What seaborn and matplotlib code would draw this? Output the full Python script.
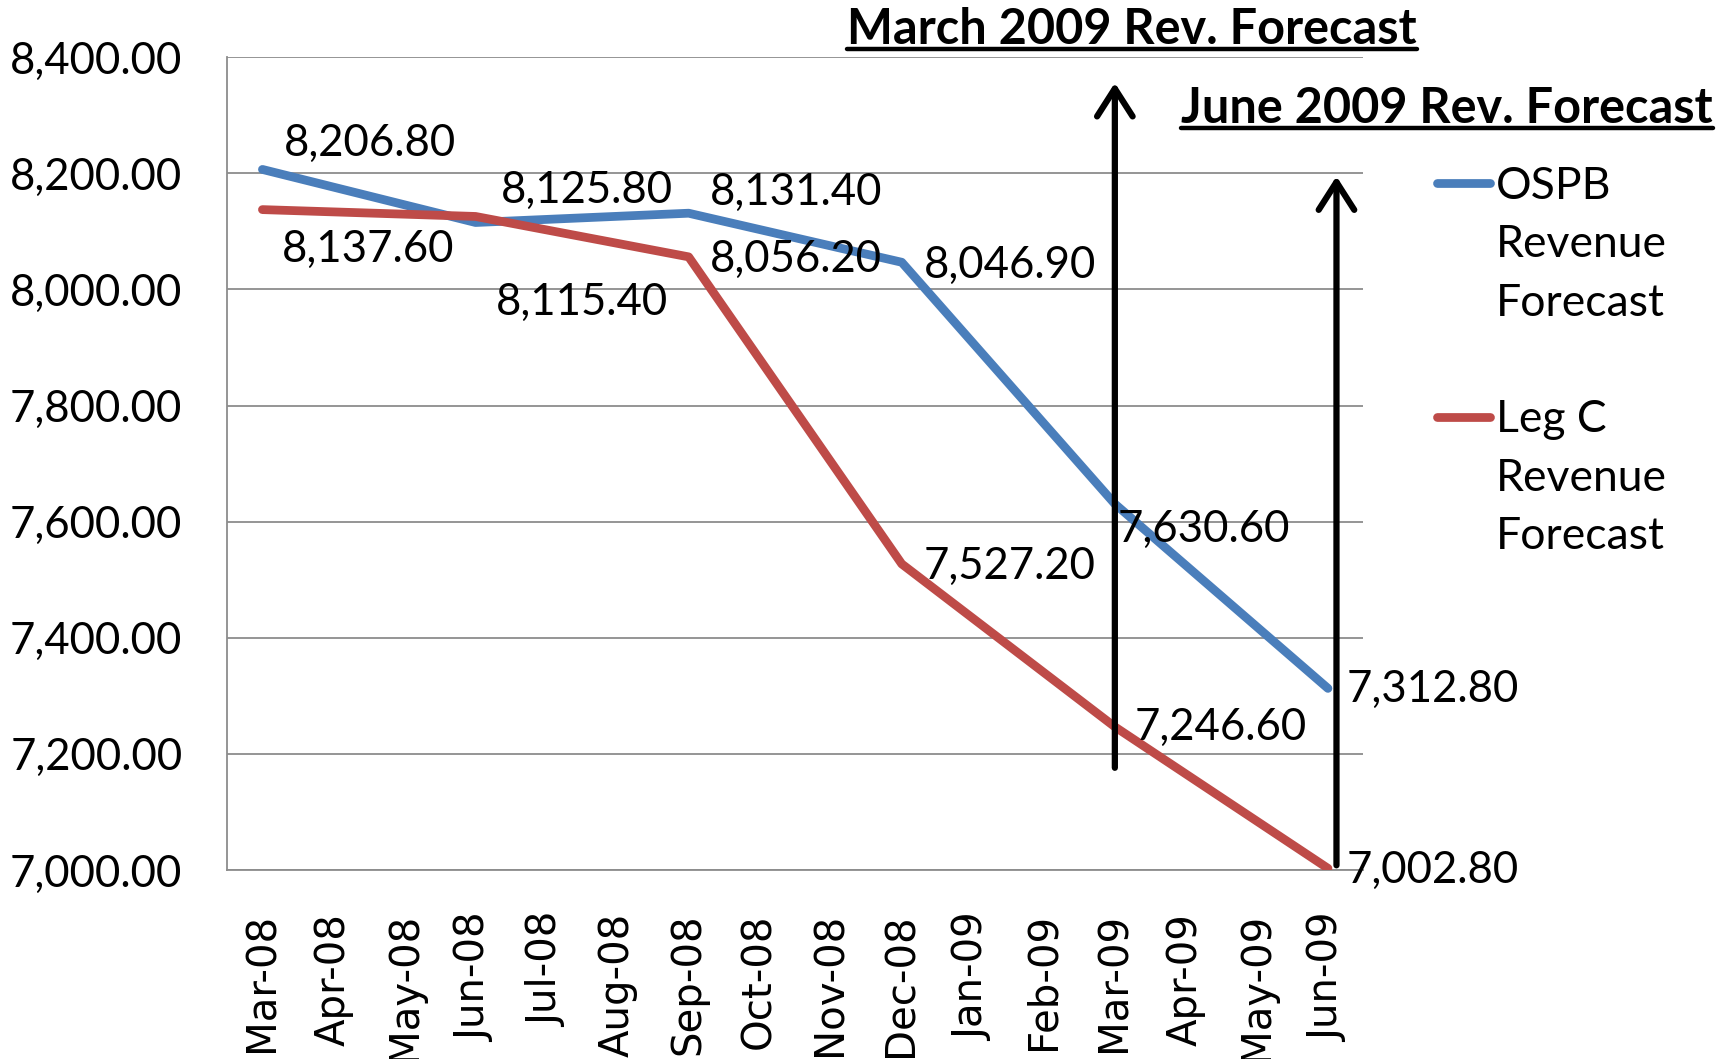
import numpy as np
import pandas as pd
import matplotlib
matplotlib.use("Agg")
import matplotlib.pyplot as plt
import seaborn as sns
from matplotlib.lines import Line2D

# ---------------- data ----------------
months = ["Mar-08", "Apr-08", "May-08", "Jun-08", "Jul-08", "Aug-08", "Sep-08",
          "Oct-08", "Nov-08", "Dec-08", "Jan-09", "Feb-09", "Mar-09", "Apr-09",
          "May-09", "Jun-09"]
forecast_months = ["Mar-08", "Jun-08", "Sep-08", "Dec-08", "Mar-09", "Jun-09"]
ospb_values = [8206.80, 8115.40, 8131.40, 8046.90, 7630.60, 7312.80]
legc_values = [8137.60, 8125.80, 8056.20, 7527.20, 7246.60, 7002.80]
series_names = ["OSPB Revenue Forecast", "Leg C Revenue Forecast"]
y_ticks = [7000, 7200, 7400, 7600, 7800, 8000, 8200, 8400]
annotation_titles = ["March 2009 Rev. Forecast", "June 2009 Rev. Forecast"]
arrow_months = ["Mar-09", "Jun-09"]
arrow_spans = [(7176, 8356), (7008, 8195)]

# ---------------- style ----------------
blue = "#4A7EBB"
red = "#BE4B48"
grid_col = "#8C8C8C"
num_font = ["Lato", "DejaVu Sans"]

sns.set_theme(style="white")
plt.rcParams["font.family"] = num_font
plt.rcParams["text.color"] = "black"
plt.rcParams["xtick.color"] = "black"
plt.rcParams["ytick.color"] = "black"

fig = plt.figure(figsize=(17.27, 10.59), dpi=100)
ax = fig.add_axes([0.1314, 0.1785, 0.6581, 0.7674])

x_pos = [months.index(m) for m in forecast_months]
df = pd.DataFrame({
    "x": x_pos * 2,
    "value": ospb_values + legc_values,
    "series": [series_names[0]] * len(ospb_values) + [series_names[1]] * len(legc_values),
})

sns.lineplot(data=df, x="x", y="value", hue="series", palette=[blue, red],
             linewidth=6.3, ax=ax, legend=False,
             solid_capstyle="round", solid_joinstyle="round", zorder=3)

ax.set_xlim(-0.5, len(months) - 0.5)
ax.set_ylim(y_ticks[0], y_ticks[-1])
ax.set_xticks(range(len(months)))
ax.set_xticklabels(months, rotation=90, fontfamily="DejaVu Sans", fontsize=29)
ax.set_yticks(y_ticks)
ax.set_yticklabels([f"{v:,.2f}" for v in y_ticks], fontsize=31.5)
ax.tick_params(axis="x", length=0, pad=31, colors="black")
ax.tick_params(axis="y", length=0, pad=32, colors="black")
ax.set_xlabel("")
ax.set_ylabel("")
ax.grid(axis="y", color=grid_col, linewidth=1.3)
ax.grid(axis="x", visible=False)
ax.set_axisbelow(True)
for s in ["top", "right"]:
    ax.spines[s].set_visible(False)
for s in ["left", "bottom"]:
    ax.spines[s].set_color(grid_col)
    ax.spines[s].set_linewidth(1.3)

# data labels (pixel offsets from each point)
ospb_offsets = [(108, 26), (106, -80), (107, 21), (108, -3), (89, -26), (105, -1)]
legc_offsets = [(106, -40), (111, 26), (107, -3), (108, -2), (106, -1), (105, -2)]
for vals, offs in [(ospb_values, ospb_offsets), (legc_values, legc_offsets)]:
    for xp, v, (dx, dy) in zip(x_pos, vals, offs):
        ax.annotate(f"{v:,.2f}", xy=(xp, v), xytext=(dx, dy),
                    textcoords="offset pixels", ha="center", va="center",
                    fontsize=31.5, color="black", zorder=5, annotation_clip=False)

# arrows
arrow_dx = [0, 0.12]
for m, (y0, y1), ddx in zip(arrow_months, arrow_spans, arrow_dx):
    xa = months.index(m) + ddx
    ax.annotate("", xy=(xa, y1), xytext=(xa, y0),
                arrowprops=dict(arrowstyle="->,head_length=0.5,head_width=0.32",
                                lw=4.5, color="black", mutation_scale=40,
                                shrinkA=0, shrinkB=0),
                annotation_clip=False, zorder=6)

# titles with underline
W, H = 1727, 1059
title_pos = [(1132, 44), (1447, 123)]
title_texts = []
for t, (px, py) in zip(annotation_titles, title_pos):
    tt = fig.text(px / W, 1 - py / H, t, ha="center", va="baseline",
                  fontsize=35, fontweight="bold", family=num_font, color="black")
    title_texts.append(tt)
fig.canvas.draw()
renderer = fig.canvas.get_renderer()
for tt, (px, py) in zip(title_texts, title_pos):
    bb = tt.get_window_extent(renderer)
    yline = 1 - (py + 5) / H
    fig.add_artist(Line2D([bb.x0 / W, bb.x1 / W], [yline, yline],
                          transform=fig.transFigure, color="black", lw=3.2))

# legend
handles = [
    Line2D([], [], color=blue, lw=6.3, solid_capstyle="round"),
    Line2D([], [], color="none"),
    Line2D([], [], color="none"),
    Line2D([], [], color="none"),
    Line2D([], [], color=red, lw=6.3, solid_capstyle="round"),
    Line2D([], [], color="none"),
    Line2D([], [], color="none"),
]
labels = ["OSPB", "Revenue", "Forecast", "", "Leg C", "Revenue", "Forecast"]
fig.legend(handles, labels, loc="upper left", bbox_to_anchor=(1437 / W, 1 - 166 / H),
           bbox_transform=fig.transFigure, frameon=False, fontsize=32,
           handlelength=1.2, handletextpad=0.12, labelspacing=0.39, borderpad=0,
           borderaxespad=0)

fig.savefig("out.png", dpi=100)
